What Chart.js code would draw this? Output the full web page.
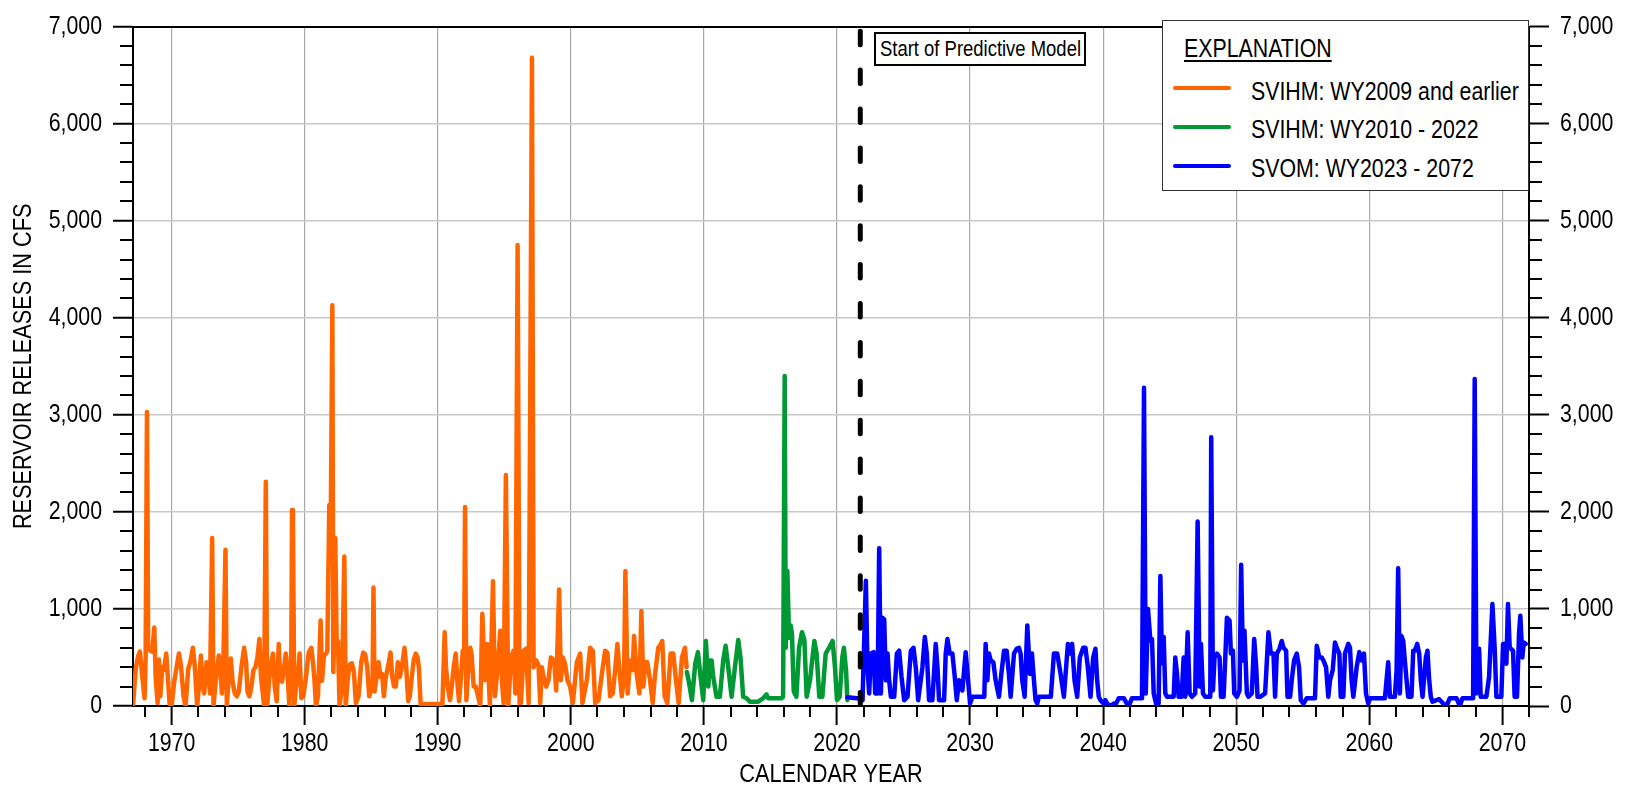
<!DOCTYPE html>
<html>
<head>
<meta charset="utf-8">
<script src="https://cdn.jsdelivr.net/npm/chart.js@4.4.1/dist/chart.umd.min.js"></script>
<style>
html, body { margin: 0; padding: 0; background: #fff; }
#wrap { position: relative; width: 1627px; height: 791px; overflow: hidden; }
#c { position: absolute; left: 0; top: 0; }
.ov { position: absolute; font-family: "Liberation Sans", Arial, sans-serif; color: #000; white-space: nowrap; }
.narrow { display: inline-block; transform: scaleX(0.82); transform-origin: 0 0; }
#legend { left: 1162px; top: 20px; width: 367px; height: 171px; box-sizing: border-box; border: 1.5px solid #333; background: #fff; }
.lgTitle { font-size: 26px; line-height: 26px; }
.lgTitle span { text-decoration: underline; text-decoration-thickness: 1.5px; text-underline-offset: 3px; }
.lgText { font-size: 26px; line-height: 26px; }
.lgLine { position: absolute; height: 4px; border-radius: 2px; width: 58px; }
#note { left: 874px; top: 32px; width: 212px; height: 34px; box-sizing: border-box; border: 2px solid #000; background: #fff; font-size: 22.5px; line-height: 29px; }
#note span { position: absolute; left: 4px; top: 0; }
</style>
</head>
<body>
<div id="wrap">
  <canvas id="c" width="1627" height="791"></canvas>
  <div id="note" class="ov"></div>
  <div id="legend" class="ov"></div>
</div>
<script>
// ---------------- DATA (decimal calendar year, release in cfs) ----------------
const svihmEarly = [
 [1967.10,0],[1967.30,380],[1967.50,520],[1967.62,560],[1967.80,300],[1967.97,80],[1968.05,500],[1968.15,3030],[1968.24,600],
 [1968.40,570],[1968.55,560],[1968.70,810],[1968.80,300],[1968.95,30],[1969.05,480],[1969.15,100],[1969.30,400],[1969.42,370],
 [1969.60,540],[1969.72,300],[1969.85,20],[1970.00,0],[1970.20,250],[1970.40,420],[1970.55,540],[1970.70,420],[1970.90,100],
 [1971.05,0],[1971.25,380],[1971.45,480],[1971.60,600],[1971.75,400],[1971.92,0],[1972.05,200],[1972.20,520],[1972.32,200],
 [1972.45,130],[1972.62,450],[1972.75,420],[1972.88,130],[1973.05,1730],[1973.15,0],[1973.35,300],[1973.55,520],[1973.65,420],
 [1973.78,130],[1973.88,380],[1974.05,1610],[1974.15,0],[1974.30,300],[1974.45,490],[1974.58,250],[1974.75,130],[1974.90,100],
 [1975.05,150],[1975.25,400],[1975.45,600],[1975.60,450],[1975.70,150],[1975.85,100],[1976.00,200],[1976.15,370],[1976.30,400],
 [1976.45,500],[1976.60,690],[1976.72,300],[1976.95,0],[1977.08,2310],[1977.18,0],[1977.35,300],[1977.50,450],[1977.62,540],
 [1977.75,200],[1977.90,50],[1978.05,640],[1978.15,300],[1978.30,250],[1978.45,400],[1978.58,540],[1978.70,350],[1978.85,0],
 [1979.00,600],[1979.05,2020],[1979.12,1900],[1979.22,0],[1979.35,200],[1979.50,330],[1979.62,540],[1979.75,80],[1979.90,100],
 [1980.10,300],[1980.30,550],[1980.50,600],[1980.62,450],[1980.72,300],[1980.85,0],[1981.00,100],[1981.20,880],[1981.30,260],
 [1981.45,520],[1981.60,540],[1981.70,560],[1981.85,2070],[1981.95,1630],[1982.08,4130],[1982.15,350],[1982.22,700],[1982.30,1730],
 [1982.40,670],[1982.50,670],[1982.62,0],[1982.80,200],[1982.98,1540],[1983.08,0],[1983.25,300],[1983.40,430],[1983.55,440],
 [1983.70,350],[1983.85,30],[1984.05,100],[1984.25,450],[1984.40,550],[1984.55,530],[1984.70,400],[1984.85,100],[1984.95,150],
 [1985.10,200],[1985.17,1220],[1985.25,150],[1985.40,300],[1985.55,450],[1985.70,300],[1985.82,330],[1985.95,100],[1986.10,300],
 [1986.30,430],[1986.45,550],[1986.58,300],[1986.72,200],[1986.85,200],[1987.00,450],[1987.15,300],[1987.30,400],[1987.50,600],
 [1987.62,420],[1987.78,50],[1987.90,100],[1988.05,300],[1988.20,480],[1988.35,540],[1988.48,500],[1988.58,400],[1988.72,0],
 [1988.85,20],[1990.35,20],[1990.52,760],[1990.62,400],[1990.75,200],[1990.92,60],[1991.05,200],[1991.20,400],[1991.35,540],
 [1991.50,200],[1991.60,50],[1991.75,300],[1991.88,570],[1991.98,400],[1992.05,2050],[1992.15,60],[1992.30,400],[1992.45,600],
 [1992.55,520],[1992.70,200],[1992.85,200],[1993.20,0],[1993.35,950],[1993.55,265],[1993.72,640],[1993.92,0],[1994.15,1285],
 [1994.30,100],[1994.50,400],[1994.70,775],[1994.82,260],[1994.95,30],[1995.12,2380],[1995.30,0],[1995.50,500],[1995.70,570],
 [1995.83,130],[1996.00,4750],[1996.15,30],[1996.25,30],[1996.45,570],[1996.63,590],[1996.83,30],[1997.08,6680],[1997.20,400],
 [1997.40,470],[1997.57,420],[1997.70,30],[1997.82,400],[1997.95,300],[1998.15,200],[1998.32,265],[1998.50,500],[1998.75,470],
 [1998.90,160],[1999.12,1200],[1999.25,265],[1999.40,500],[1999.57,430],[1999.75,265],[1999.95,200],[2000.15,30],[2000.45,450],
 [2000.70,540],[2000.87,30],[2001.20,265],[2001.45,600],[2001.65,570],[2001.83,30],[2002.08,60],[2002.33,330],[2002.58,570],
 [2002.75,550],[2002.95,100],[2003.15,130],[2003.33,370],[2003.50,640],[2003.65,370],[2003.83,100],[2004.00,300],[2004.10,1390],
 [2004.27,130],[2004.45,470],[2004.65,370],[2004.75,720],[2004.95,330],[2005.15,130],[2005.30,980],[2005.45,200],[2005.60,450],
 [2005.75,450],[2005.95,265],[2006.15,30],[2006.33,330],[2006.57,600],[2006.70,620],[2006.87,670],[2007.05,100],[2007.25,30],
 [2007.50,540],[2007.70,540],[2007.90,265],[2008.10,30],[2008.35,500],[2008.57,600],[2008.70,400]
];
const svihmRecent = [
 [2008.72,350],[2008.85,265],[2009.10,60],[2009.35,435],[2009.55,555],[2009.67,400],[2009.95,60],[2010.15,670],[2010.33,200],
 [2010.45,470],[2010.58,470],[2010.70,300],[2010.95,95],[2011.20,95],[2011.45,470],[2011.63,620],[2011.83,400],[2012.08,95],
 [2012.33,400],[2012.58,680],[2012.75,500],[2012.95,95],[2013.20,80],[2013.45,45],[2014.08,45],[2014.45,80],[2014.70,120],
 [2014.83,80],[2015.83,80],[2015.95,95],[2016.07,3400],[2016.15,600],[2016.27,1390],[2016.40,700],[2016.52,830],[2016.62,740],
 [2016.75,150],[2016.95,95],[2017.15,600],[2017.37,760],[2017.55,680],[2017.72,95],[2017.97,265],[2018.30,670],[2018.47,540],
 [2018.67,95],[2018.90,95],[2019.15,540],[2019.40,600],[2019.67,670],[2019.85,400],[2020.00,60],[2020.20,95],[2020.40,500],
 [2020.52,600],[2020.68,370],[2020.78,60]
];
const svomFuture = [
 [2020.78,90],[2021.50,80],[2021.92,60],[2022.17,1290],[2022.29,400],[2022.42,130],[2022.55,540],[2022.75,555],[2022.87,130],
 [2023.05,130],[2023.17,1625],[2023.30,130],[2023.42,910],[2023.55,890],[2023.67,265],[2023.80,540],[2023.92,265],[2024.05,95],
 [2024.30,95],[2024.50,540],[2024.67,570],[2024.85,300],[2025.05,60],[2025.30,95],[2025.55,570],[2025.75,600],[2025.92,400],
 [2026.10,60],[2026.42,400],[2026.60,710],[2026.75,540],[2026.92,60],[2027.17,60],[2027.42,640],[2027.55,400],[2027.67,60],
 [2028.05,60],[2028.17,540],[2028.30,690],[2028.47,540],[2028.67,540],[2028.85,300],[2029.00,60],[2029.17,265],[2029.42,160],
 [2029.67,555],[2029.85,265],[2030.00,25],[2030.17,95],[2031.07,95],[2031.17,640],[2031.30,265],[2031.42,540],[2031.55,470],
 [2031.75,450],[2031.92,265],[2032.17,95],[2032.35,330],[2032.55,570],[2032.75,570],[2032.92,330],[2033.05,95],[2033.30,540],
 [2033.50,590],[2033.67,600],[2033.80,540],[2033.92,265],[2034.10,95],[2034.30,830],[2034.50,330],[2034.65,540],[2034.80,265],
 [2034.92,60],[2035.05,25],[2035.17,95],[2036.07,95],[2036.30,540],[2036.55,540],[2036.80,330],[2037.05,95],[2037.35,640],
 [2037.50,540],[2037.67,640],[2037.85,265],[2038.05,95],[2038.25,500],[2038.50,600],[2038.67,600],[2038.85,400],[2039.05,95],
 [2039.25,500],[2039.42,590],[2039.55,265],[2039.67,95],[2039.80,60],[2040.05,25],[2040.17,60],[2040.30,25],[2040.55,0],
 [2040.80,25],[2040.97,25],[2041.17,80],[2041.55,80],[2041.80,20],[2041.92,0],[2042.17,80],[2042.92,80],[2043.07,3280],
 [2043.20,130],[2043.37,1000],[2043.55,670],[2043.67,690],[2043.80,130],[2044.00,10],[2044.17,25],[2044.30,1340],[2044.42,440],
 [2044.55,710],[2044.67,130],[2044.80,95],[2045.30,95],[2045.42,500],[2045.55,330],[2045.67,95],[2045.90,95],[2046.05,500],
 [2046.17,95],[2046.35,760],[2046.50,130],[2046.67,95],[2046.92,130],[2047.10,1900],[2047.25,200],[2047.35,640],[2047.50,130],
 [2047.67,95],[2048.05,95],[2048.12,2770],[2048.25,160],[2048.37,500],[2048.55,540],[2048.75,500],[2048.85,95],[2049.05,95],
 [2049.17,470],[2049.30,910],[2049.50,880],[2049.60,540],[2049.75,570],[2049.85,130],[2050.05,95],[2050.25,160],[2050.37,1455],
 [2050.50,470],[2050.62,775],[2050.80,130],[2050.92,95],[2051.17,130],[2051.35,690],[2051.50,400],[2051.60,95],[2051.80,95],
 [2052.17,130],[2052.42,760],[2052.60,540],[2052.80,540],[2052.92,95],[2053.05,540],[2053.25,590],[2053.42,670],[2053.55,600],
 [2053.75,570],[2053.85,95],[2054.05,95],[2054.17,265],[2054.35,470],[2054.55,540],[2054.72,400],[2054.85,60],[2055.05,25],
 [2055.30,80],[2055.92,80],[2056.05,620],[2056.25,500],[2056.42,500],[2056.55,470],[2056.75,400],[2056.92,95],[2057.05,265],
 [2057.25,370],[2057.42,655],[2057.55,600],[2057.75,540],[2057.85,95],[2058.05,95],[2058.17,540],[2058.42,640],[2058.55,600],
 [2058.67,265],[2058.80,95],[2059.05,400],[2059.25,555],[2059.42,470],[2059.60,540],[2059.75,130],[2059.92,25],[2060.05,80],
 [2061.17,80],[2061.42,450],[2061.55,95],[2061.92,95],[2062.05,370],[2062.17,1420],[2062.30,130],[2062.42,720],[2062.55,670],
 [2062.67,470],[2062.80,265],[2062.92,95],[2063.17,95],[2063.30,570],[2063.42,570],[2063.60,640],[2063.75,540],[2063.87,265],
 [2064.00,95],[2064.25,500],[2064.37,570],[2064.50,265],[2064.62,95],[2064.75,45],[2065.05,60],[2065.25,70],[2065.55,25],
 [2065.80,0],[2066.05,80],[2066.55,80],[2066.80,0],[2067.00,80],[2067.80,80],[2067.92,3370],[2068.05,130],[2068.25,590],
 [2068.37,95],[2068.80,95],[2069.00,300],[2069.25,1050],[2069.42,600],[2069.55,95],[2069.92,95],[2070.05,640],[2070.17,640],
 [2070.30,435],[2070.42,1050],[2070.55,600],[2070.80,570],[2070.92,95],[2071.10,95],[2071.25,740],[2071.35,930],[2071.50,500],
 [2071.60,655],[2071.75,640]
];
const predictiveStartYear = 2021.75;
const seriesLabels = ['SVIHM: WY2009 and earlier', 'SVIHM: WY2010 - 2022', 'SVOM: WY2023 - 2072'];
const seriesColors = ['#FF6600', '#009933', '#0000FF'];
const xRange = [1967.1, 2072.0];
const yRange = [0, 7000];
const noteText = 'Start of Predictive Model';
const legendTitle = 'EXPLANATION';
// ---------------------------------------------------------------------------

const NARROW = 0.82; // the reference uses a narrow (condensed) sans face
Chart.defaults.font.family = '"Liberation Sans", Arial, sans-serif';
Chart.defaults.color = '#000';

const canvas = document.getElementById('c');
const c2d = canvas.getContext('2d');
const origFillText = c2d.fillText;
c2d.fillText = function (text, x, y, maxWidth) {
  this.save();
  this.translate(x, y);
  this.scale(NARROW, 1);
  if (maxWidth !== undefined) origFillText.call(this, text, 0, 0, maxWidth / NARROW);
  else origFillText.call(this, text, 0, 0);
  this.restore();
};

const toXY = arr => arr.map(p => ({x: p[0], y: p[1]}));

const minorTicks = {
  id: 'minorTicks',
  afterDraw(chart) {
    const {ctx, scales} = chart;
    const x = scales.x, y = scales.y;
    const area = chart.chartArea;
    ctx.save();
    ctx.strokeStyle = '#000';
    ctx.lineWidth = 2;
    ctx.beginPath();
    for (let v = yRange[0]; v <= yRange[1]; v += 200) {
      if (v % 1000 === 0) continue;
      const py = Math.round(y.getPixelForValue(v));
      ctx.moveTo(area.left - 13, py); ctx.lineTo(area.left, py);
      ctx.moveTo(area.right, py); ctx.lineTo(area.right + 13, py);
    }
    for (let yr = 1968; yr <= 2072; yr += 2) {
      if (yr % 10 === 0) continue;
      const px = Math.round(x.getPixelForValue(yr));
      ctx.moveTo(px, area.bottom); ctx.lineTo(px, area.bottom + 11);
    }
    ctx.stroke();
    ctx.restore();
  }
};

const lineDs = (label, data, color, order) => ({
  label, data: toXY(data), borderColor: color, backgroundColor: color,
  borderWidth: 4.5, pointRadius: 0, tension: 0, fill: false,
  borderJoinStyle: 'round', borderCapStyle: 'round', order
});

new Chart(canvas, {
  type: 'line',
  data: {
    datasets: [
      lineDs(seriesLabels[0], svihmEarly, seriesColors[0], 3),
      lineDs(seriesLabels[1], svihmRecent, seriesColors[1], 2),
      lineDs(seriesLabels[2], svomFuture, seriesColors[2], 1),
      {
        label: 'predictive', data: [{x: predictiveStartYear, y: yRange[0]}, {x: predictiveStartYear, y: yRange[1]}],
        borderColor: '#000', borderWidth: 5, borderDash: [13.5, 25.4], borderCapStyle: 'round',
        pointRadius: 0, fill: false, order: 0
      }
    ]
  },
  options: {
    responsive: false,
    devicePixelRatio: 1,
    animation: false,
    layout: { padding: 0 },
    plugins: { legend: { display: false }, tooltip: { enabled: false } },
    scales: {
      x: {
        type: 'linear', position: 'bottom', min: xRange[0], max: xRange[1],
        ticks: { stepSize: 10, includeBounds: false, autoSkip: false, maxRotation: 0,
                 callback: v => String(v), font: { size: 26 }, padding: 3, color: '#000' },
        grid: { color: '#a8a8a8', lineWidth: 1.2, tickColor: '#000', tickLength: 19, tickWidth: 2 },
        border: { display: true, color: '#000', width: 2 },
        title: { display: true, text: 'CALENDAR YEAR', font: { size: 26.5, lineHeight: 1.2 }, padding: { top: 0, bottom: 0 }, color: '#000' },
        afterFit(s) { s.height = 85; }
      },
      xTop: {
        type: 'linear', position: 'top', min: xRange[0], max: xRange[1],
        ticks: { display: false },
        grid: { display: false, drawTicks: false },
        border: { display: true, color: '#000', width: 2 },
        afterFit(s) { s.height = 20; }
      },
      y: {
        type: 'linear', position: 'left', min: yRange[0], max: yRange[1],
        ticks: { stepSize: 1000, font: { size: 26 }, padding: 11, color: '#000',
                 callback: v => v.toLocaleString('en-US') },
        grid: { color: '#c8c8c8', lineWidth: 1.5, tickColor: '#000', tickLength: 20, tickWidth: 2 },
        border: { display: true, color: '#000', width: 2 },
        title: { display: true, text: 'RESERVOIR RELEASES IN CFS', font: { size: 26.5, lineHeight: 1.2 }, padding: { top: 8, bottom: 0 }, color: '#000' },
        afterFit(s) { s.width = 133; }
      },
      y2: {
        type: 'linear', position: 'right', min: yRange[0], max: yRange[1],
        ticks: { stepSize: 1000, font: { size: 26 }, padding: 11, color: '#000',
                 callback: v => v.toLocaleString('en-US') },
        grid: { drawOnChartArea: false, tickColor: '#000', tickLength: 20, tickWidth: 2 },
        border: { display: true, color: '#000', width: 2 },
        afterFit(s) { s.width = 98; }
      }
    }
  },
  plugins: [minorTicks]
});

// Legend and note (HTML overlays, real text)
(function buildOverlays() {
  const lg = document.getElementById('legend');
  const ox = 1162, oy = 20;
  const t = document.createElement('div');
  t.className = 'ov lgTitle';
  t.style.left = (1183 - ox) + 'px';
  t.style.top = (34 - oy) + 'px';
  t.innerHTML = '<span class="narrow"></span>';
  t.firstChild.textContent = legendTitle;
  lg.appendChild(t);
  const lineY = [87.3, 126.3, 165.3];
  const capTop = [80, 118.5, 157.3];
  seriesLabels.forEach((lab, i) => {
    const ln = document.createElement('div');
    ln.className = 'lgLine';
    ln.style.left = (1172 - ox) + 'px';
    ln.style.top = (lineY[i] - 2 - oy) + 'px';
    ln.style.background = seriesColors[i];
    lg.appendChild(ln);
    const tx = document.createElement('div');
    tx.className = 'ov lgText';
    tx.style.left = (1250 - ox) + 'px';
    tx.style.top = (capTop[i] - 3.5 - oy) + 'px';
    tx.innerHTML = '<span class="narrow"></span>';
    tx.firstChild.textContent = lab;
    lg.appendChild(tx);
  });
  const note = document.getElementById('note');
  note.innerHTML = '<span class="narrow"></span>';
  note.firstChild.textContent = noteText;
})();
</script>
</body>
</html>
